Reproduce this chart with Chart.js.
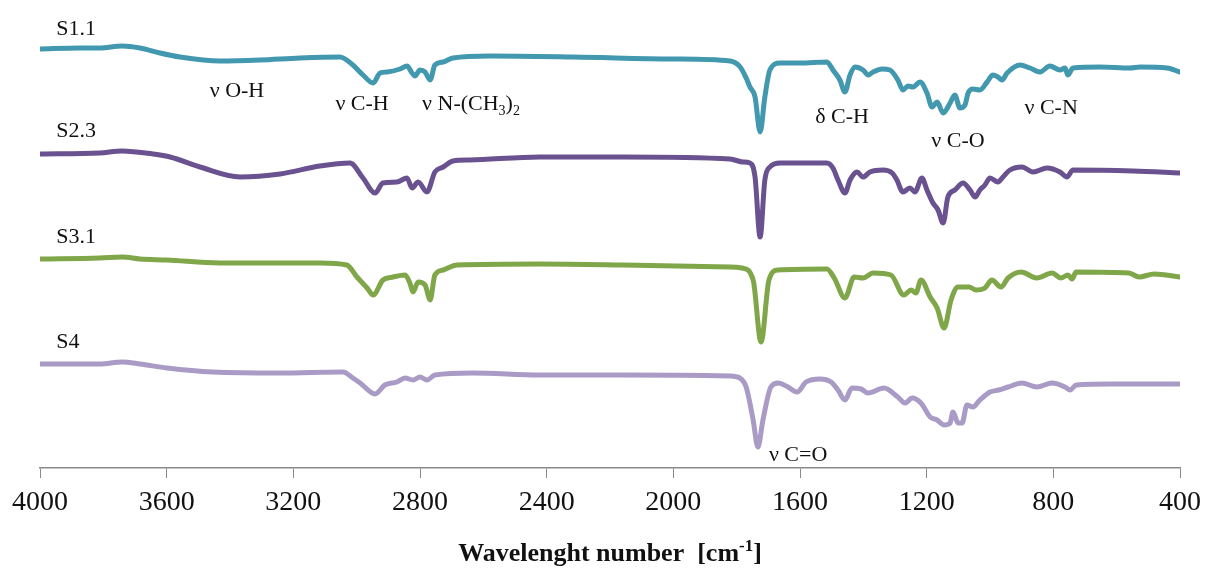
<!DOCTYPE html>
<html>
<head>
<meta charset="utf-8">
<title>FTIR spectra</title>
<script src="https://cdn.jsdelivr.net/npm/chart.js@4/dist/chart.umd.min.js"></script>
<style>
  html, body { margin: 0; padding: 0; background: #ffffff; }
  #wrap { width: 1205px; height: 572px; position: relative; }
</style>
</head>
<body>
<div id="wrap"><canvas id="ftir" width="1205" height="572"></canvas></div>
<script>
// Spectra: [wavenumber cm-1, transmittance (offset, arbitrary units)]
const seriesNames = ['S1.1', 'S2.3', 'S3.1', 'S4'];
const seriesColors = ['#4298AE', '#69528F', '#80A64A', '#A99BC6'];

const S11 = [[4000,419],[3874,420],[3811,420],[3741,422],[3684,420],[3621,415],[3558,411],[3432,407],[3305,408],[3179,410],[3053,411],[3012,403],[2980,393],[2948,385],[2926,395],[2904,396],[2863,399],[2841,402],[2825,395],[2816,392],[2800,398],[2784,396],[2768,388],[2753,403],[2727,406],[2696,410],[2579,412],[2317,411],[2001,409],[1821,407],[1789,401],[1770,390],[1758,381],[1742,371],[1726,336],[1711,371],[1695,398],[1663,405],[1600,405],[1515,406],[1496,398],[1474,388],[1458,376],[1442,393],[1426,401],[1401,398],[1385,393],[1369,396],[1341,399],[1316,398],[1291,388],[1275,378],[1259,382],[1243,381],[1221,386],[1199,375],[1183,361],[1167,366],[1148,355],[1126,365],[1111,373],[1095,360],[1079,363],[1069,375],[1054,379],[1032,378],[1009,386],[991,393],[975,391],[962,388],[946,395],[905,403],[874,400],[842,396],[811,402],[779,398],[763,400],[754,393],[738,400],[653,401],[558,400],[526,401],[441,400],[400,396]];

const S23 = [[4000,314],[3811,315],[3741,317],[3643,314],[3589,311],[3495,301],[3368,291],[3242,294],[3116,302],[3021,305],[2980,290],[2942,275],[2917,285],[2873,286],[2841,290],[2825,280],[2806,286],[2778,276],[2753,296],[2727,301],[2696,307],[2642,308],[2421,311],[2159,311],[1821,309],[1780,306],[1758,305],[1742,291],[1726,231],[1711,288],[1695,301],[1663,305],[1515,305],[1496,300],[1480,288],[1458,275],[1442,288],[1420,296],[1401,291],[1379,296],[1338,298],[1309,295],[1294,288],[1275,276],[1253,280],[1237,276],[1215,290],[1199,278],[1180,265],[1164,258],[1148,245],[1133,271],[1111,278],[1085,285],[1063,278],[1047,271],[1032,278],[1016,283],[1000,290],[975,286],[959,291],[937,298],[899,301],[864,296],[820,300],[779,296],[757,291],[738,298],[548,297],[400,295]];

const S31 = [[4000,209],[3811,210],[3741,211],[3684,209],[3599,208],[3432,205],[3242,205],[3116,205],[3031,203],[2999,191],[2967,180],[2948,173],[2917,188],[2885,191],[2847,193],[2832,185],[2822,176],[2806,186],[2784,183],[2768,168],[2753,193],[2727,198],[2683,203],[2421,204],[2159,203],[1821,201],[1783,200],[1748,188],[1723,126],[1698,188],[1669,198],[1515,199],[1492,190],[1458,170],[1429,191],[1401,190],[1369,195],[1313,193],[1272,173],[1249,178],[1234,175],[1218,188],[1189,171],[1167,160],[1145,140],[1123,168],[1101,181],[1066,181],[1044,178],[1016,180],[994,188],[965,181],[943,190],[902,196],[852,190],[804,195],[776,190],[754,193],[741,189],[728,196],[561,195],[529,191],[482,194],[400,191]];

const S4 = [[4000,104],[3811,104],[3741,106],[3684,104],[3599,100],[3454,96],[3242,95],[3043,96],[3012,90],[2989,85],[2942,74],[2911,83],[2873,86],[2847,90],[2822,88],[2800,91],[2778,88],[2753,93],[2633,95],[2421,93],[2159,93],[1821,92],[1790,90],[1770,81],[1748,48],[1733,21],[1717,48],[1692,81],[1669,85],[1638,81],[1609,76],[1581,86],[1537,89],[1502,86],[1480,78],[1458,68],[1436,80],[1407,79],[1385,75],[1335,80],[1291,71],[1268,65],[1246,70],[1218,65],[1189,51],[1167,48],[1145,43],[1126,45],[1117,56],[1101,45],[1088,45],[1073,63],[1054,61],[1032,68],[1000,76],[972,78],[943,81],[899,85],[852,81],[804,85],[763,81],[747,78],[728,83],[618,84],[400,84]];

const spectra = [S11, S23, S31, S4];

const xTicks = [4000, 3600, 3200, 2800, 2400, 2000, 1600, 1200, 800, 400];

// Sample name labels: [wavenumber of left edge, baseline value]
const nameLabelPos = [[3949, 433], [3949, 331], [3949, 225], [3949, 120]];

// Band assignments: text pieces, [wavenumber at centre, baseline value]
const bandLabels = [
  { parts: [{ t: 'ν O-H' }], at: [3378, 371] },
  { parts: [{ t: 'ν C-H' }], at: [2983, 358] },
  { parts: [{ t: 'ν N-(CH' }, { t: '3', sub: true }, { t: ')' }, { t: '2', sub: true }], at: [2639, 358] },
  { parts: [{ t: 'δ C-H' }], at: [1467, 345] },
  { parts: [{ t: 'ν C-O' }], at: [1101, 321] },
  { parts: [{ t: 'ν C-N' }], at: [807, 354] },
  { parts: [{ t: 'ν C=O' }], at: [1606, 7] }
];

const axisTitleParts = [{ t: 'Wavelenght number  [cm' }, { t: '-1', sup: true }, { t: ']' }];

const SERIF = '"Liberation Serif", "Times New Roman", serif';

// Draws a run of text pieces (with optional sub/superscripts) on one baseline.
function drawRich(ctx, parts, x, baseline, size, weight, align) {
  const small = Math.round(size * 0.65);
  const fontFor = p => `${weight} ${p.sub || p.sup ? small : size}px ${SERIF}`;
  let width = 0;
  parts.forEach(p => { ctx.font = fontFor(p); width += ctx.measureText(p.t).width; });
  let cx = align === 'center' ? x - width / 2 : x;
  ctx.textBaseline = 'alphabetic';
  ctx.textAlign = 'left';
  parts.forEach(p => {
    ctx.font = fontFor(p);
    let dy = 0;
    if (p.sub) dy = size * 0.22;
    if (p.sup) dy = -size * 0.38;
    ctx.fillText(p.t, cx, baseline + dy);
    cx += ctx.measureText(p.t).width;
  });
}

const textPlugin = {
  id: 'spectraText',
  afterDraw(chart) {
    const { ctx, chartArea, scales } = chart;
    const xs = scales.x, ys = scales.y;
    ctx.save();
    ctx.fillStyle = '#111111';
    seriesNames.forEach((name, i) => {
      const [wn, v] = nameLabelPos[i];
      drawRich(ctx, [{ t: name }], xs.getPixelForValue(wn), ys.getPixelForValue(v), 22, 'normal', 'left');
    });
    bandLabels.forEach(b => {
      drawRich(ctx, b.parts, xs.getPixelForValue(b.at[0]), ys.getPixelForValue(b.at[1]), 22, 'normal', 'center');
    });
    drawRich(ctx, axisTitleParts, (chartArea.left + chartArea.right) / 2, chartArea.bottom + 93, 26, 'bold', 'center');
    ctx.restore();
  }
};

new Chart(document.getElementById('ftir'), {
  type: 'line',
  data: {
    datasets: spectra.map((s, i) => ({
      label: seriesNames[i],
      data: s.map(([x, y]) => ({ x, y })),
      borderColor: seriesColors[i],
      borderWidth: 5,
      borderCapStyle: 'round',
      borderJoinStyle: 'round',
      pointRadius: 0,
      fill: false,
      cubicInterpolationMode: 'monotone'
    }))
  },
  options: {
    responsive: false,
    animation: false,
    devicePixelRatio: 1,
    layout: { padding: { left: 40, right: 25, top: 28, bottom: 0 } },
    plugins: { legend: { display: false }, tooltip: { enabled: false } },
    scales: {
      x: {
        type: 'linear',
        reverse: true,
        min: 400,
        max: 4000,
        afterBuildTicks: scale => { scale.ticks = xTicks.map(v => ({ value: v })); },
        afterFit: scale => { scale.height = 104; scale.paddingLeft = 0; scale.paddingRight = 0; },
        ticks: {
          autoSkip: false,
          maxRotation: 0,
          padding: 8,
          color: '#111111',
          font: { family: SERIF, size: 28 },
          callback: v => String(v)
        },
        grid: { display: true, drawOnChartArea: false, drawTicks: true, tickLength: 10, color: '#8a8a8a', lineWidth: 1 },
        border: { display: true, color: '#8a8a8a', width: 1.5 }
      },
      y: {
        display: false,
        min: 0,
        max: 440
      }
    }
  },
  plugins: [textPlugin]
});
</script>
</body>
</html>
